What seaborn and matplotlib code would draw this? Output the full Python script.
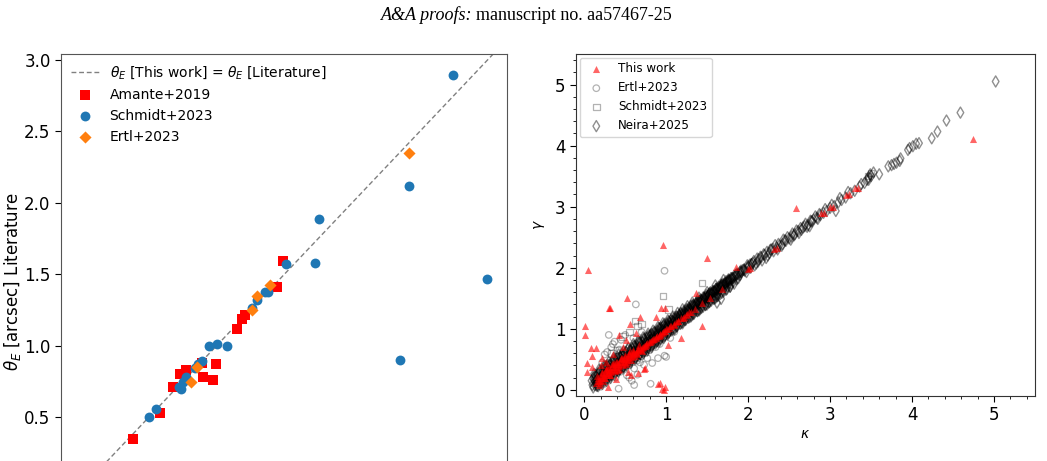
import numpy as np
import matplotlib
matplotlib.use("Agg")
import matplotlib.pyplot as plt
from matplotlib.ticker import MultipleLocator
import seaborn as sns

# ---------------- Left panel data: Einstein radius comparison ----------------
amante_this = [0.381, 0.585, 0.681, 0.733, 0.775, 0.890, 0.902, 0.974, 0.994, 1.153, 1.186, 1.208, 1.446, 1.490]
amante_lit = [0.350, 0.532, 0.714, 0.800, 0.830, 0.882, 0.782, 0.760, 0.870, 1.120, 1.190, 1.218, 1.409, 1.596]

schmidt_this = [0.501, 0.553, 0.725, 0.735, 0.750, 0.775, 0.841, 0.861, 0.893, 0.942, 1.006, 1.075,
                1.259, 1.296, 1.355, 1.377, 1.513, 1.729, 1.758, 2.354, 2.423, 2.743, 2.994]
schmidt_lit = [0.502, 0.558, 0.714, 0.696, 0.749, 0.780, 0.843, 0.870, 0.896, 0.996, 1.013, 0.996,
               1.262, 1.320, 1.376, 1.376, 1.572, 1.579, 1.885, 0.901, 2.120, 2.895, 1.465]

ertl_this = [0.809, 0.853, 1.259, 1.296, 1.395, 2.423]
ertl_lit = [0.749, 0.854, 1.250, 1.349, 1.425, 2.347]

# ---------------- Right panel data: kappa vs gamma ----------------
thiswork_kappa = [
    # dense band
    0.15, 0.17, 0.18, 0.20, 0.21, 0.23, 0.24, 0.26, 0.27, 0.29, 0.30, 0.32, 0.33, 0.35, 0.36, 0.38, 0.40, 0.41,
    0.43, 0.44, 0.46, 0.48, 0.49, 0.51, 0.53, 0.54, 0.56, 0.58, 0.59, 0.61, 0.63, 0.65, 0.66, 0.68, 0.70, 0.72,
    0.74, 0.75, 0.77, 0.79, 0.81, 0.83, 0.85, 0.87, 0.89, 0.91, 0.93, 0.95, 0.97, 0.99, 1.01, 1.04, 1.06, 1.09,
    1.12, 1.15, 1.18, 1.22, 1.26, 1.30,
    0.16, 0.19, 0.22, 0.25, 0.28, 0.31, 0.34, 0.37, 0.39, 0.42, 0.45, 0.47, 0.50, 0.52, 0.55, 0.57, 0.60, 0.64,
    0.67, 0.71, 0.18, 0.23, 0.27, 0.32, 0.36, 0.41, 0.46, 0.51, 0.56, 0.62,
    0.17, 0.19, 0.22, 0.24, 0.26, 0.28, 0.30, 0.33, 0.35, 0.38, 0.40, 0.43, 0.45, 0.48, 0.50, 0.53, 0.55, 0.58,
    0.60, 0.63, 0.66, 0.69, 0.73, 0.76, 0.80, 0.84, 0.88, 0.92, 0.96, 1.00, 1.05, 1.10, 1.14, 1.20, 1.24, 1.28,
    # along band at larger kappa
    1.35, 1.44, 1.53, 1.68, 1.85, 2.00, 2.02, 2.32, 2.35, 2.895, 2.93, 3.005, 3.04, 3.20, 3.23, 3.31, 3.34,
    # outliers
    0.96, 1.50, 0.05, 0.517, 0.30, 0.32, 1.37, 1.44, 1.18, 0.01, 0.01, 0.08, 0.03, 0.04, 0.09, 0.09, 0.14,
    0.88, 0.98, 0.94, 0.68, 0.56, 0.63, 0.51, 0.42, 0.29, 0.74, 0.73, 0.66, 0.57, 1.02, 0.90, 0.93, 0.95,
    0.97, 0.99, 2.58, 4.74, 0.26, 0.35, 0.47, 0.22, 0.20, 0.39, 0.53
]
thiswork_gamma = [
    0.12, 0.15, 0.14, 0.19, 0.22, 0.21, 0.25, 0.26, 0.28, 0.28, 0.31, 0.32, 0.34, 0.34, 0.37, 0.37, 0.40, 0.42,
    0.42, 0.45, 0.45, 0.48, 0.50, 0.50, 0.52, 0.54, 0.55, 0.57, 0.59, 0.60, 0.62, 0.64, 0.65, 0.67, 0.69, 0.71,
    0.72, 0.75, 0.76, 0.78, 0.80, 0.82, 0.84, 0.85, 0.88, 0.89, 0.92, 0.93, 0.96, 0.97, 1.00, 1.02, 1.05, 1.07,
    1.11, 1.13, 1.17, 1.20, 1.25, 1.28,
    0.22, 0.12, 0.30, 0.19, 0.36, 0.24, 0.43, 0.31, 0.46, 0.35, 0.52, 0.40, 0.57, 0.45, 0.60, 0.49, 0.66, 0.58,
    0.73, 0.64, 0.08, 0.15, 0.34, 0.25, 0.44, 0.33, 0.53, 0.43, 0.63, 0.55,
    0.20, 0.16, 0.27, 0.20, 0.32, 0.24, 0.37, 0.29, 0.42, 0.33, 0.46, 0.39, 0.50, 0.44, 0.54, 0.49, 0.58, 0.54,
    0.62, 0.60, 0.67, 0.66, 0.72, 0.74, 0.78, 0.83, 0.86, 0.90, 0.94, 0.99, 1.04, 1.08, 1.12, 1.18, 1.22, 1.27,
    1.33, 1.42, 1.50, 1.66, 2.01, 1.98, 2.00, 2.31, 2.33, 2.90, 2.89, 2.99, 3.00, 3.19, 3.20, 3.30, 3.31,
    2.38, 2.16, 1.97, 1.505, 1.335, 1.335, 1.59, 1.04, 0.85, 1.04, 0.90, 0.68, 0.44, 0.30, 0.56, 0.37, 0.68,
    1.20, 1.34, 1.34, 1.19, 1.08, 0.93, 0.82, 0.90, 0.05, 0.36, 0.35, 0.28, 0.25, 0.74, 0.10, 0.12, 0.02,
    0.00, 0.05, 2.98, 4.10, 0.45, 0.58, 0.70, 0.52, 0.40, 0.18, 0.30
]

ertl_kappa = [0.98, 0.63, 0.30, 0.42, 0.61, 0.81, 0.98, 1.00, 0.90, 0.83, 0.73, 0.61, 0.52, 0.40, 0.37, 0.35,
              0.33, 0.28, 0.25, 0.22, 0.45, 0.48, 0.55, 0.65, 0.70, 0.75, 0.80, 0.87, 0.50, 0.45, 0.60, 0.70,
              0.38, 0.30, 0.25, 0.20, 0.35, 0.55, 0.65, 0.92, 1.05, 1.10, 0.47, 0.58, 0.27, 0.43, 0.68, 0.77]
ertl_gamma = [1.95, 1.40, 0.90, 0.02, 0.08, 0.10, 0.56, 0.54, 0.52, 0.44, 0.41, 0.35, 0.24, 0.54, 0.79, 0.75,
              0.70, 0.62, 0.58, 0.45, 0.30, 0.35, 0.40, 0.48, 0.55, 0.60, 0.65, 0.70, 0.90, 0.82, 0.85, 0.95,
              0.20, 0.15, 0.10, 0.05, 0.32, 0.20, 0.25, 0.75, 0.85, 0.95, 0.58, 0.15, 0.42, 0.66, 0.45, 0.52]

schmidt_kappa = [1.44, 0.96, 1.03, 0.62, 0.65, 0.47, 0.70, 0.40, 0.55, 0.33, 0.50, 0.75, 3.50, 3.46]
schmidt_gamma = [1.75, 1.54, 1.32, 1.13, 1.05, 0.875, 1.08, 0.65, 0.95, 0.60, 0.45, 0.70, 3.55, 3.50]

neira_kappa = [
    0.09, 0.12, 0.14, 0.17, 0.19, 0.22, 0.24, 0.27, 0.29, 0.31, 0.34, 0.36, 0.39, 0.41, 0.44, 0.46, 0.48, 0.51,
    0.53, 0.56, 0.58, 0.61, 0.63, 0.66, 0.68, 0.71, 0.73, 0.76, 0.78, 0.81, 0.83, 0.86, 0.88, 0.91, 0.93, 0.96,
    0.98, 1.01, 1.03, 1.06, 1.08, 1.11, 1.13, 1.16, 1.18, 1.21, 1.23, 1.26, 1.28, 1.31, 1.33, 1.36, 1.38, 1.41,
    1.43, 1.46, 1.48, 1.51, 1.53, 1.56, 1.58, 1.61, 1.63, 1.66, 1.68, 1.71, 1.73, 1.76, 1.78, 1.81,
    0.10, 0.13, 0.15, 0.18, 0.20, 0.23, 0.25, 0.28, 0.30, 0.32, 0.35, 0.37, 0.40, 0.42, 0.45, 0.47, 0.50, 0.52,
    0.55, 0.57, 0.60, 0.62, 0.65, 0.67, 0.70, 0.72, 0.75, 0.77, 0.80, 0.82, 0.85, 0.87, 0.90, 0.92, 0.95, 0.97,
    1.00, 1.02, 1.05, 1.07, 1.10, 1.12, 1.15, 1.17, 1.20, 1.22, 1.25, 1.27, 1.30, 1.32, 1.35, 1.37, 1.40, 1.42,
    1.45, 1.47, 1.50, 1.52, 1.55, 1.57, 1.60, 1.62, 1.65, 1.67, 1.70, 1.72, 1.75, 1.77, 1.80, 1.84, 1.88,
    0.11, 0.16, 0.21, 0.26, 0.31, 0.33, 0.38, 0.43, 0.48, 0.53, 0.58, 0.63, 0.68, 0.73, 0.78, 0.83, 0.88, 0.93,
    0.98, 1.03, 1.08, 1.13, 1.18, 1.23, 1.28, 1.33, 1.38, 1.43, 1.48, 1.53, 1.58, 1.63, 1.68, 1.73, 1.78,
    0.12, 0.18, 0.24, 0.30, 0.36, 0.42, 0.48, 0.54, 0.60, 0.66, 0.72, 0.78, 0.84, 0.90, 0.96, 1.02, 1.08, 1.14,
    1.20, 1.26, 1.32, 1.40, 1.50, 1.60, 1.70, 1.62, 1.67,
    0.11, 0.14, 0.16, 0.19, 0.23, 0.26, 0.28, 0.31, 0.35, 0.37, 0.40, 0.44, 0.47, 0.49, 0.52, 0.56, 0.59, 0.61,
    0.64, 0.68, 0.70, 0.73, 0.77, 0.80, 0.82, 0.85, 0.89, 0.92, 0.94, 0.97, 1.01, 1.04, 1.06, 1.09, 1.13, 1.16,
    1.18, 1.21, 1.25, 1.28, 1.30, 1.33, 1.37, 1.40, 1.42, 1.45, 1.49, 1.52, 1.54, 1.57, 1.61, 1.64, 1.66, 1.69,
    1.73, 1.76, 1.79, 1.83,
    0.13, 0.15, 0.18, 0.21, 0.24, 0.27, 0.30, 0.33, 0.36, 0.39, 0.42, 0.45, 0.48, 0.51, 0.54, 0.57, 0.60, 0.63,
    0.66, 0.69, 0.72, 0.75, 0.78, 0.81, 0.84, 0.87, 0.90, 0.93, 0.96, 0.99, 1.02, 1.05, 1.08, 1.11, 1.14, 1.17,
    1.20, 1.23, 1.26, 1.29, 1.32, 1.35, 1.38, 1.41, 1.44, 1.47, 1.50, 1.53, 1.56, 1.59, 1.62, 1.65, 1.69, 1.72,
    1.75, 1.79, 1.82, 1.86,
    0.14, 0.20, 0.25, 0.29, 0.33, 0.38, 0.43, 0.46, 0.50, 0.55, 0.59, 0.63, 0.67, 0.71, 0.76, 0.80, 0.84, 0.88,
    0.92, 0.97, 1.01, 1.05, 1.09, 1.13, 1.17, 1.22, 1.26, 1.30, 1.34, 1.39, 1.43, 1.47, 1.51, 1.55, 1.59, 1.64,
    1.68, 1.72, 1.77, 1.82, 1.87, 1.91, 1.95, 1.99, 2.04,
    0.17, 0.22, 0.27, 0.32, 0.37, 0.42, 0.47, 0.52, 0.57, 0.62, 0.67, 0.72, 0.77, 0.82, 0.87, 0.92, 0.97, 1.02,
    1.10, 1.20, 1.30, 1.40, 1.50, 1.60,
    0.15, 0.19, 0.22, 0.26, 0.29, 0.33, 0.36, 0.40, 0.43, 0.47, 0.50, 0.54, 0.57, 0.61, 0.64, 0.68, 0.71, 0.75,
    0.78, 0.82, 0.85, 0.89, 0.92, 0.96, 0.99, 1.03, 1.06, 1.10, 1.13, 1.17, 1.20, 1.24, 1.27, 1.31, 1.34, 1.38,
    1.41, 1.45, 1.48, 1.52, 1.55, 1.59, 1.62, 1.66, 1.70, 1.74, 1.78, 1.83,
    0.12, 0.17, 0.21, 0.24, 0.28, 0.31, 0.35, 0.39, 0.42, 0.46, 0.49, 0.53, 0.56, 0.60, 0.63, 0.67, 0.70, 0.74,
    0.77, 0.81, 0.84, 0.88, 0.91, 0.95, 0.98, 1.02, 1.05, 1.09, 1.12, 1.16, 1.19, 1.23, 1.26, 1.30, 1.33, 1.37,
    1.40, 1.44, 1.47, 1.51, 1.54, 1.58, 1.61, 1.65, 1.68, 1.72, 1.76, 1.80, 1.85, 1.90,
    1.86, 1.90, 1.93, 1.96, 2.00, 2.03, 2.06, 2.10, 2.13, 2.17, 2.20, 2.24, 2.27, 2.31, 2.35, 2.38, 2.42, 2.46,
    2.50, 2.53, 2.57, 2.61, 2.65, 2.69, 2.73, 2.77, 2.80, 2.84, 2.88, 2.92, 2.96, 3.00, 3.05, 3.10, 3.14, 3.19,
    3.25, 3.30, 3.36, 3.42, 3.47, 3.50, 3.53,
    1.88, 1.92, 1.98, 2.02, 2.08, 2.12, 2.16, 2.22, 2.26, 2.30, 2.36, 2.41, 2.45, 2.52, 2.56, 2.62, 2.67, 2.72,
    2.78, 2.85, 2.75, 3.07,
    1.91, 1.95, 1.99, 2.04, 2.07, 2.11, 2.15, 2.19, 2.23, 2.28, 2.33, 2.37, 2.43, 2.48, 2.54, 2.59, 2.64, 2.70,
    2.76, 2.82, 2.87, 2.94, 3.02, 3.12, 3.22,
    3.38, 3.45, 3.47, 3.49, 3.60, 3.71, 3.75, 3.78, 3.81, 3.85, 3.86, 3.95, 3.97, 4.01, 4.05, 4.085, 4.24,
    4.31, 4.42, 4.59, 5.02
]
neira_gamma = [
    0.15, 0.22, 0.21, 0.27, 0.31, 0.30, 0.36, 0.38, 0.41, 0.40, 0.46, 0.49, 0.47, 0.53, 0.55, 0.58, 0.56, 0.62,
    0.66, 0.64, 0.69, 0.72, 0.70, 0.77, 0.79, 0.78, 0.84, 0.85, 0.88, 0.90, 0.92, 0.95, 0.94, 1.01, 1.02, 1.04,
    1.08, 1.07, 1.12, 1.14, 1.13, 1.19, 1.20, 1.22, 1.26, 1.25, 1.30, 1.32, 1.31, 1.38, 1.39, 1.41, 1.44, 1.45,
    1.47, 1.51, 1.52, 1.54, 1.58, 1.59, 1.61, 1.65, 1.66, 1.68, 1.72, 1.73, 1.75, 1.79, 1.80, 1.83,
    0.08, 0.13, 0.16, 0.17, 0.21, 0.24, 0.23, 0.29, 0.31, 0.30, 0.36, 0.38, 0.40, 0.43, 0.45, 0.47, 0.51, 0.51,
    0.56, 0.55, 0.61, 0.62, 0.64, 0.67, 0.71, 0.70, 0.77, 0.75, 0.81, 0.82, 0.84, 0.88, 0.91, 0.90, 0.97, 0.95,
    1.01, 1.03, 1.05, 1.08, 1.11, 1.10, 1.17, 1.15, 1.21, 1.23, 1.24, 1.28, 1.31, 1.30, 1.37, 1.35, 1.41, 1.43,
    1.44, 1.48, 1.51, 1.50, 1.57, 1.55, 1.61, 1.63, 1.64, 1.68, 1.71, 1.70, 1.77, 1.75, 1.81, 1.85, 1.89,
    0.04, 0.07, 0.12, 0.16, 0.22, 0.24, 0.29, 0.33, 0.38, 0.44, 0.49, 0.53, 0.59, 0.63, 0.69, 0.73, 0.79, 0.84,
    0.88, 0.94, 0.99, 1.04, 1.09, 1.14, 1.19, 1.24, 1.29, 1.34, 1.39, 1.44, 1.49, 1.54, 1.59, 1.64, 1.69,
    0.26, 0.33, 0.39, 0.46, 0.52, 0.58, 0.63, 0.69, 0.75, 0.80, 0.86, 0.92, 0.97, 1.03, 1.09, 1.14, 1.20, 1.26,
    1.32, 1.37, 1.43, 1.51, 1.60, 1.71, 1.80, 1.43, 1.49,
    0.19, 0.24, 0.25, 0.28, 0.33, 0.35, 0.38, 0.41, 0.44, 0.47, 0.50, 0.53, 0.56, 0.59, 0.61, 0.65, 0.68, 0.70,
    0.73, 0.77, 0.79, 0.82, 0.86, 0.88, 0.91, 0.93, 0.97, 1.00, 1.02, 1.05, 1.09, 1.11, 1.14, 1.16, 1.20, 1.23,
    1.25, 1.28, 1.32, 1.34, 1.37, 1.39, 1.43, 1.46, 1.48, 1.51, 1.55, 1.57, 1.60, 1.62, 1.66, 1.69, 1.71, 1.74,
    1.78, 1.81, 1.83, 1.87,
    0.08, 0.11, 0.13, 0.17, 0.19, 0.23, 0.25, 0.29, 0.31, 0.35, 0.37, 0.41, 0.43, 0.47, 0.49, 0.53, 0.55, 0.59,
    0.61, 0.65, 0.67, 0.71, 0.73, 0.77, 0.79, 0.83, 0.85, 0.89, 0.91, 0.95, 0.97, 1.01, 1.03, 1.07, 1.09, 1.13,
    1.15, 1.19, 1.21, 1.25, 1.27, 1.31, 1.33, 1.37, 1.39, 1.43, 1.45, 1.49, 1.51, 1.55, 1.57, 1.61, 1.64, 1.68,
    1.70, 1.74, 1.77, 1.81,
    0.15, 0.20, 0.27, 0.30, 0.35, 0.39, 0.45, 0.47, 0.52, 0.56, 0.61, 0.64, 0.69, 0.72, 0.78, 0.81, 0.86, 0.89,
    0.94, 0.98, 1.03, 1.06, 1.11, 1.14, 1.19, 1.23, 1.28, 1.31, 1.36, 1.40, 1.45, 1.48, 1.53, 1.56, 1.61, 1.65,
    1.70, 1.73, 1.79, 1.83, 1.89, 1.92, 1.97, 2.00, 2.06,
    0.06, 0.10, 0.15, 0.20, 0.25, 0.30, 0.36, 0.40, 0.45, 0.50, 0.55, 0.60, 0.65, 0.70, 0.76, 0.80, 0.85, 0.91,
    0.99, 1.09, 1.20, 1.30, 1.40, 1.50,
    0.07, 0.10, 0.13, 0.18, 0.20, 0.25, 0.27, 0.31, 0.34, 0.38, 0.41, 0.45, 0.48, 0.52, 0.55, 0.59, 0.62, 0.66,
    0.69, 0.73, 0.76, 0.80, 0.83, 0.87, 0.90, 0.94, 0.97, 1.01, 1.04, 1.08, 1.11, 1.15, 1.18, 1.22, 1.25, 1.29,
    1.32, 1.36, 1.39, 1.43, 1.46, 1.50, 1.53, 1.57, 1.61, 1.65, 1.69, 1.74,
    0.16, 0.20, 0.25, 0.27, 0.32, 0.34, 0.39, 0.42, 0.46, 0.49, 0.53, 0.56, 0.60, 0.63, 0.67, 0.70, 0.74, 0.77,
    0.81, 0.84, 0.88, 0.91, 0.95, 0.98, 1.02, 1.05, 1.09, 1.12, 1.16, 1.19, 1.23, 1.26, 1.30, 1.33, 1.37, 1.40,
    1.44, 1.47, 1.51, 1.54, 1.58, 1.61, 1.65, 1.68, 1.72, 1.75, 1.79, 1.83, 1.88, 1.93,
    1.90, 1.88, 1.96, 1.95, 2.02, 2.00, 2.08, 2.07, 2.14, 2.12, 2.21, 2.20, 2.29, 2.27, 2.33, 2.36, 2.39, 2.44,
    2.48, 2.51, 2.55, 2.60, 2.62, 2.68, 2.70, 2.76, 2.79, 2.82, 2.86, 2.90, 2.93, 2.98, 3.01, 3.07, 3.11, 3.15,
    3.22, 3.26, 3.33, 3.39, 3.44, 3.50, 3.56,
    1.83, 1.93, 1.93, 2.05, 2.04, 2.10, 2.17, 2.16, 2.24, 2.31, 2.30, 2.36, 2.45, 2.46, 2.53, 2.57, 2.66, 2.67,
    2.76, 2.80, 2.68, 2.93,
    1.95, 1.97, 2.04, 2.06, 2.11, 2.15, 2.18, 2.22, 2.26, 2.30, 2.37, 2.39, 2.46, 2.50, 2.56, 2.61, 2.65, 2.72,
    2.77, 2.84, 2.88, 2.96, 3.03, 3.14, 3.24,
    3.37, 3.44, 3.48, 3.53, 3.53, 3.66, 3.68, 3.70, 3.72, 3.75, 3.79, 3.93, 3.96, 3.99, 4.03, 4.04, 4.12,
    4.23, 4.41, 4.54, 5.05
]

# ---------------- Figure ----------------
W, H = 1047, 461
fig = plt.figure(figsize=(W / 100, H / 100), dpi=100)
plt.rcParams['font.family'] = ['DejaVu Sans']

# header
fig.text(472 / W, 1 - 15 / H, "A&A proofs:", ha="right", va="center",
         family="Liberation Serif", style="italic", fontsize=13)
fig.text(476 / W, 1 - 15 / H, "manuscript no. aa57467-25", ha="left", va="center",
         family="Liberation Serif", fontsize=13)

# ---- Left axes (extends below the visible page crop) ----
y0, y1 = 0.10, 3.04
py_top = 54.3
py_bot = 60 + (3.0 - y0) * 142.9
axL = fig.add_axes([61 / W, 1 - py_bot / H, 446 / W, (py_bot - py_top) / H])
axL.set_xlim(-0.148, 3.144)
axL.set_ylim(y0, y1)

line = np.array([-0.2, 3.2])
sns.lineplot(x=line, y=line, ax=axL, color="gray", linestyle=(0, (3.5, 2)), linewidth=1.0,
             label=r"$\theta_E$ [This work] = $\theta_E$ [Literature]")
sns.scatterplot(x=amante_this, y=amante_lit, ax=axL, marker="s", color="red", s=46,
                linewidth=0, label="Amante+2019", zorder=3)
sns.scatterplot(x=schmidt_this, y=schmidt_lit, ax=axL, marker="o", color="#1f77b4", s=50,
                linewidth=0, label="Schmidt+2023", zorder=3)
sns.scatterplot(x=ertl_this, y=ertl_lit, ax=axL, marker="D", color="#ff7f0e", s=38,
                linewidth=0, label="Ertl+2023", zorder=3)
axL.set_yticks([0.5, 1.0, 1.5, 2.0, 2.5, 3.0])
axL.set_yticklabels(["0.5", "1.0", "1.5", "2.0", "2.5", "3.0"])
axL.tick_params(axis="y", labelsize=12, length=4)
axL.set_xticks([])
axL.set_ylabel(r"$\theta_E$ [arcsec] Literature", fontsize=12)
axL.yaxis.set_label_coords(-0.086, (py_bot - 282) / (py_bot - py_top))
axL.legend(loc="upper left", frameon=False, fontsize=10, borderaxespad=0.3)
for sp in axL.spines.values():
    sp.set_color("#555555")

# ---- Right axes ----
axR = fig.add_axes([576 / W, 1 - 396 / H, 459 / W, 342 / H])
sns.scatterplot(x=neira_kappa, y=neira_gamma, ax=axR, marker="d", s=32, facecolor="none",
                edgecolor="black", linewidth=1.0, alpha=0.44, label="Neira+2025", zorder=2)
sns.scatterplot(x=ertl_kappa, y=ertl_gamma, ax=axR, marker="o", s=22, facecolor="none",
                edgecolor="black", linewidth=0.9, alpha=0.3, label="Ertl+2023", zorder=2)
sns.scatterplot(x=schmidt_kappa, y=schmidt_gamma, ax=axR, marker="s", s=22, facecolor="none",
                edgecolor="black", linewidth=0.9, alpha=0.3, label="Schmidt+2023", zorder=2)
sns.scatterplot(x=thiswork_kappa, y=thiswork_gamma, ax=axR, marker="^", s=26, color="red",
                linewidth=0, alpha=0.6, label="This work", zorder=3)
axR.set_xlim(-0.1, 5.5)
axR.set_ylim(-0.1, 5.5)
axR.xaxis.set_major_locator(MultipleLocator(1))
axR.yaxis.set_major_locator(MultipleLocator(1))
axR.xaxis.set_minor_locator(MultipleLocator(0.2))
axR.yaxis.set_minor_locator(MultipleLocator(0.2))
axR.tick_params(which="major", labelsize=12, length=4)
axR.tick_params(which="minor", length=2.5)
axR.set_xlabel(r"$\kappa$", fontsize=10, labelpad=2)
axR.set_ylabel(r"$\gamma$", fontsize=10, labelpad=6)
h, l = axR.get_legend_handles_labels()
order = [l.index(n) for n in ["This work", "Ertl+2023", "Schmidt+2023", "Neira+2025"]]
axR.legend([h[i] for i in order], [l[i] for i in order], loc="upper left", fontsize=8.6,
           borderaxespad=0.3)
for sp in axR.spines.values():
    sp.set_color("#333333")

fig.savefig("out.png", dpi=100)
